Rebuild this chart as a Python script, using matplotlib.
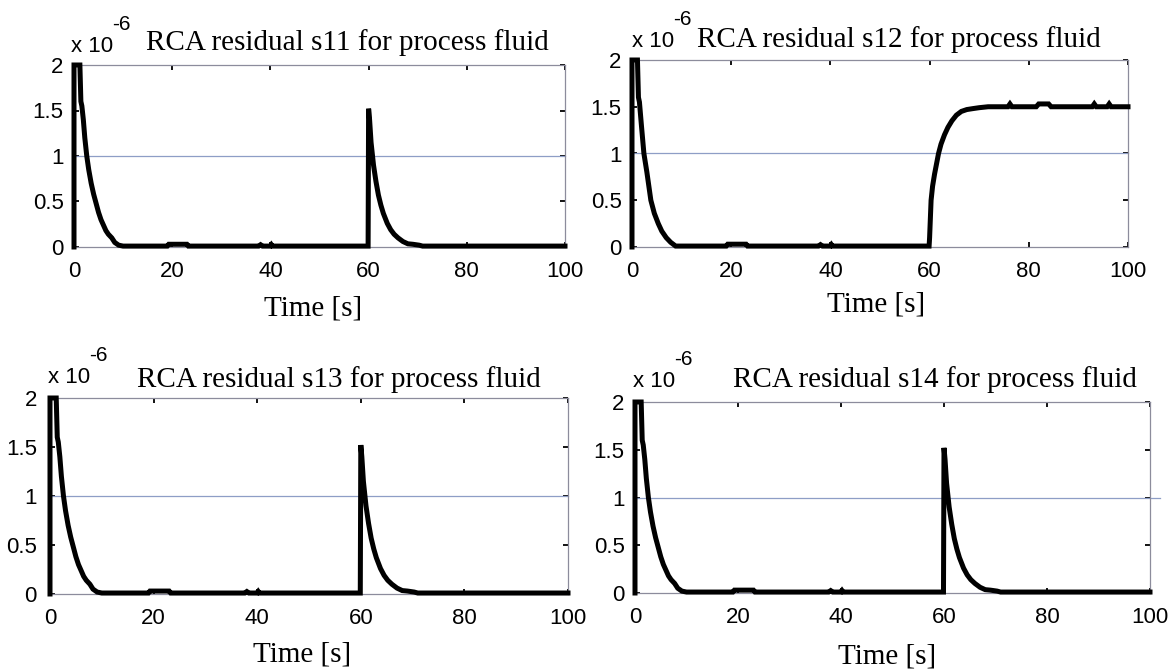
import matplotlib.pyplot as plt

# residual values are in units of 1e-6
t_decay = [0, 0, 1.2, 1.4, 1.6, 1.9, 2.2, 2.6, 3.0, 3.5, 4.0, 4.4, 5.0, 5.5, 6.0,
           6.5, 7.0, 7.7, 8.3, 9.1, 10.0, 19.0, 19.3, 23.0, 23.3, 37.6, 38.0,
           38.4, 40.0, 40.2, 40.4, 59.9, 60.0, 60.2, 60.5, 61.0, 61.5, 62.0,
           62.5, 63.0, 63.8, 64.5, 65.2, 66.0, 67.0, 68.0, 69.0, 70.3, 71.0, 100.0]
v_s11 = [0, 2.0, 2.0, 1.6, 1.55, 1.4, 1.2, 1.0, 0.85, 0.7, 0.58, 0.5, 0.38, 0.3, 0.24,
         0.18, 0.14, 0.1, 0.05, 0.02, 0.01, 0.01, 0.03, 0.03, 0.01, 0.01, 0.025,
         0.01, 0.01, 0.025, 0.01, 0.01, 1.52, 1.4, 1.15, 0.9, 0.72, 0.57,
         0.46, 0.37, 0.26, 0.19, 0.14, 0.1, 0.06, 0.035, 0.03, 0.02, 0.01, 0.01]
v_s13 = v_s11
v_s14 = v_s11

t_s12 = [0, 0, 1.1, 1.3, 1.5, 1.9, 2.4, 3.0, 3.8, 4.5, 5.3, 6.0, 6.9, 7.8, 8.8,
         10.0, 19.0, 19.3, 23.0, 23.3, 37.6, 38.0, 38.4, 40.0, 40.2, 40.4,
         59.9, 60.0, 60.3, 60.6, 61.0, 61.8, 62.3, 63.0, 63.7, 64.5, 65.4,
         66.4, 67.5, 68.7, 70.0, 71.8, 75.8, 76.2, 76.6, 81.5, 82.0, 84.0,
         84.5, 92.8, 93.2, 93.6, 95.8, 96.2, 96.6, 100.0]
v_s12 = [0, 2.0, 2.0, 1.6, 1.55, 1.3, 1.0, 0.8, 0.5, 0.36, 0.25, 0.17, 0.1, 0.05, 0.01,
         0.01, 0.01, 0.03, 0.03, 0.01, 0.01, 0.025, 0.01, 0.01, 0.025, 0.01,
         0.01, 0.1, 0.5, 0.65, 0.78, 1.0, 1.1, 1.2, 1.28, 1.35, 1.41,
         1.45, 1.47, 1.48, 1.49, 1.5, 1.5, 1.53, 1.5, 1.5, 1.53, 1.53,
         1.5, 1.5, 1.53, 1.5, 1.5, 1.53, 1.5, 1.5]

threshold = 1.0
titles = ["RCA residual s11 for process fluid", "RCA residual s12 for process fluid",
          "RCA residual s13 for process fluid", "RCA residual s14 for process fluid"]
x_ticks = [0, 20, 40, 60, 80, 100]
y_ticks = [0, 0.5, 1, 1.5, 2]
y_tick_labels = ["0", "0.5", "1", "1.5", "2"]

W, H = 1173, 671


def fx(px):
    return px / W


def fy(py):
    return 1 - py / H


def main():
    fig = plt.figure(figsize=(W / 100, H / 100), dpi=100)

    panels = [
        # axes box (left, right, top, bottom) px, data, title xy, xlabel xy, x10 xy, y pad
        ((74, 565, 65, 247), (t_decay, v_s11), (347, 50), (313, 315), (71, 52), 7.5),
        ((632, 1128, 60, 247), (t_s12, v_s12), (899, 47), (876, 312), (632, 47), 7.5),
        ((50, 568, 398, 594), (t_decay, v_s13), (339, 387), (302, 662), (48, 383), 9.5),
        ((635, 1150, 402, 593), (t_decay, v_s14), (935, 387), (887, 663), (633, 387), 7.5),
    ]

    for i, (box, (t, v), tpos, lpos, mpos, ypad) in enumerate(panels):
        l, r, top, b = box
        ax = fig.add_axes([fx(l), fy(b), fx(r - l), (b - top) / H])
        ax.plot(t, v, color="black", linewidth=3.6, solid_joinstyle="miter",
                clip_on=False, zorder=3)
        # threshold; in the last panel it runs a little past the frame
        x_end = 102 if i == 3 else 100
        ax.plot([0, x_end], [threshold, threshold], color="#8e9ec6",
                linewidth=0.9, clip_on=False, zorder=2)
        ax.set_xlim(0, 100)
        ax.set_ylim(0, 2)
        ax.set_xticks(x_ticks)
        ax.set_yticks(y_ticks)
        ax.set_yticklabels(y_tick_labels)
        ax.tick_params(direction="in", length=3.5, width=1.3, color="black",
                       top=True, right=True, labelsize=16)
        ax.tick_params(axis="x", pad=10)
        ax.tick_params(axis="y", pad=ypad)
        for lab in ax.get_xticklabels() + ax.get_yticklabels():
            lab.set_fontfamily("Liberation Sans")
        for sp in ax.spines.values():
            sp.set_color("#8c8c9c")
            sp.set_linewidth(0.9)

        fig.text(fx(tpos[0]), fy(tpos[1]), titles[i], ha="center", va="baseline",
                 fontsize=21, family="Liberation Serif")
        fig.text(fx(lpos[0]), fy(lpos[1]), "Time [s]", ha="center", va="baseline",
                 fontsize=21, family="Liberation Serif")
        fig.text(fx(mpos[0]), fy(mpos[1]), "x 10", ha="left", va="baseline",
                 fontsize=16, family="Liberation Sans")
        fig.text(fx(mpos[0] + 41), fy(mpos[1] - 22), "-6", ha="left", va="baseline",
                 fontsize=15, family="Liberation Sans")

    fig.savefig("out.png", dpi=100)
    plt.close(fig)


if __name__ == "__main__":
    main()
